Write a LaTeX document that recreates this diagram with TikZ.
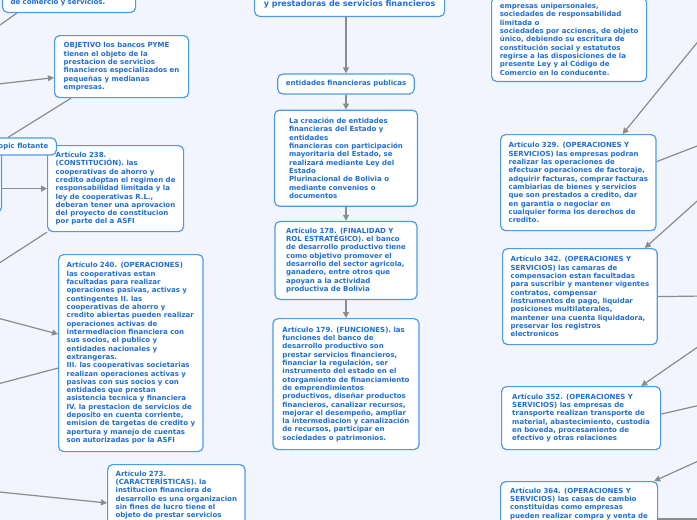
\documentclass[tikz,border=0pt]{standalone}
\usepackage{fontspec}
\setmainfont{DejaVu Sans}
\usepackage{xcolor}
\usetikzlibrary{arrows.meta, positioning}

\definecolor{fondo}{HTML}{F2F5FD}
\definecolor{borde}{HTML}{4C9BEB}
\definecolor{letra}{HTML}{1F6FD5}
\definecolor{linea}{HTML}{8C8C8C}

\begin{document}
\begin{tikzpicture}[
  x=1pt, y=-1pt,
  node distance=16pt,
  tema/.style={draw=borde, line width=1.2pt, fill=white, rounded corners=5pt,
               text=letra, font=\fontsize{7}{8.33}\selectfont\bfseries,
               align=left, inner xsep=8pt, inner ysep=6pt},
  titulo/.style={tema, font=\fontsize{8}{9.5}\selectfont\bfseries},
  con/.style={draw=linea, line width=1.2pt},
  arr/.style={con, -{Triangle[length=6pt, width=6pt]}}
]
\fill[fondo] (0,0) rectangle (697,520);
\useasboundingbox (0,0) rectangle (697,520);

% topics cut by the page edge
\node[tema, anchor=south west, text width=117pt] (comercio) at (2,13) {de comercio y servicios.};
\node[titulo, anchor=south west, minimum width=190pt, minimum height=24pt] (titulo) at (254,17)
  {y prestadoras de servicios financieros};
\node[tema, anchor=south west, minimum width=155pt] (ley) at (491,82)
  {empresas unipersonales,\\sociedades de responsabilidad\\limitada o\\sociedades por acciones, de objeto\\único, debiendo su escritura de\\constitución social y estatutos\\regirse a las disposiciones de la\\presente Ley y al Código de\\Comercio en lo conducente.};
\node[tema, anchor=south east, minimum width=90pt, minimum height=66pt] (oculto) at (2,213) {};

% left branch
\node[tema, anchor=north west, minimum width=134pt, minimum height=62pt] (objetivo) at (54,35)
  {OBJETIVO los bancos PYME\\tienen el objeto de la\\prestacion de servicios\\financieros especializados en\\pequeñas y medianas\\empresas.};
\node[tema, anchor=north west, minimum width=136pt, minimum height=86pt] (art238) at (47,145)
  {Artículo 238.\\(CONSTITUCIÓN). las\\cooperativas de ahorro y\\credito adoptan el regimen de\\responsabilidad limitada y la\\ley de cooperativas R.L.,\\deberan tener una aprovacion\\del proyecto de constitucion\\por parte del a ASFI};
\node[tema, anchor=east, minimum height=17pt, inner ysep=3pt] (flot) at (57,146.5) {Topic flotante};
\node[tema, anchor=north west, minimum width=142pt, minimum height=197pt] (art240) at (58,254)
  {Artículo 240. (OPERACIONES)\\las cooperativas estan\\facultadas para realizar\\operaciones pasivas, activas y\\contingentes II. las\\cooperativas de ahorro y\\credito abiertas pueden realizar\\operaciones activas de\\intermediacion financiera con\\sus socios, el publico y\\entidades nacionales y\\extrangeras.\\III. las cooperativas societarias\\realizan operaciones activas y\\pasivas con sus socios y con\\entidades que prestan\\asistencia tecnica y financiera\\IV. la prestacion de servicios de\\deposito en cuenta corriente,\\emision de targetas de credito y\\apertura y manejo de cuentas\\son autorizadas por la ASFI};
\node[tema, anchor=north west, minimum width=136pt] (art273) at (107,464)
  {Artículo 273.\\(CARACTERÍSTICAS). la\\institucion financiera de\\desarrollo es una organizacion\\sin fines de lucro tiene el\\objeto de prestar servicios};

% central chain
\node[tema, minimum height=20pt, inner ysep=3pt] (publicas) at (346,84) {entidades financieras publicas};
\node[tema, below=15pt of publicas, minimum width=143pt, minimum height=96pt] (creacion)
  {La creación de entidades\\financieras del Estado y\\entidades\\financieras con participación\\mayoritaria del Estado, se\\realizará mediante Ley del\\Estado\\Plurinacional de Bolivia o\\mediante convenios o\\documentos};
\node[tema, below=14pt of creacion, minimum width=142pt, minimum height=78pt] (art178)
  {Artículo 178. (FINALIDAD Y\\ROL ESTRATÉGICO). el banco\\de desarrollo productivo tiene\\como objetivo promover el\\desarrollo del sector agricola,\\ganadero, entre otros que\\apoyan a la actividad\\productiva de Bolivia};
\node[tema, below=18pt of art178, minimum width=146pt, minimum height=131pt] (art179)
  {Artículo 179. (FUNCIONES). las\\funciones del banco de\\desarrollo productivo son\\prestar servicios financieros,\\financiar la regulación, ser\\instrumento del estado en el\\otorgamiento de financiamiento\\de emprendimientos\\productivos, diseñar productos\\financieros, canalizar recursos,\\mejorar el desempeño, ampliar\\la intermediacion y canalización\\de recursos, participar en\\sociedades o patrimonios.};

% right branch
\node[tema, anchor=north west, minimum width=155pt, minimum height=96pt] (art329) at (500,134)
  {Artículo 329. (OPERACIONES Y\\SERVICIOS) las empresas podran\\realizar las operaciones de\\efectuar operaciones de factoraje,\\adquirir facturas, comprar facturas\\cambiarias de bienes y servicios\\que son prestados a credito, dar\\en garantia o negociar en\\cualquier forma los derechos de\\credito.};
\node[tema, anchor=north west, minimum width=154pt, minimum height=96pt] (art342) at (502,248)
  {Artículo 342. (OPERACIONES Y\\SERVICIOS) las camaras de\\compensacion estan facultadas\\para suscribir y mantener vigentes\\contratos, compensar\\instrumentos de pago, liquidar\\posiciones multilaterales,\\mantener una cuenta liquidadora,\\preservar los registros\\electronicos};
\node[tema, anchor=north west, minimum width=159pt, minimum height=63pt] (art352) at (501,386)
  {Artículo 352. (OPERACIONES Y\\SERVICIOS) las empresas de\\transporte realizan transporte de\\material, abastecimiento, custodia\\en boveda, procesamiento de\\efectivo y otras relaciones};
\node[tema, anchor=north west, minimum width=157pt] (art364) at (500,481)
  {Artículo 364. (OPERACIONES Y\\SERVICIOS) las casas de cambio\\constituidas como empresas\\pueden realizar compra y venta de};

% connectors
\coordinate (izq1) at (-10,32);
\draw[con] (izq1) -- ([xshift=15pt]comercio.south west);
\coordinate (izq2) at (-10,85);
\draw[arr] (izq2) -- ([yshift=-11pt]objetivo.west);
\draw[con] ([xshift=17pt]objetivo.south west) -- ([xshift=-49pt]flot.north east);
\draw[arr] (oculto.east |- art238.west) -- (art238.west);
\coordinate (izq3) at (-10,269);
\draw[con] (art238.south west) -- (izq3);
\coordinate (izq4) at (-10,316);
\draw[arr] (izq4) -- ([yshift=19pt]art240.west);
\coordinate (izq5) at (-10,386);
\draw[con] ([yshift=-15pt]art240.west) -- (izq5);
\coordinate (izq6) at (-10,491);
\draw[arr] (izq6) -- ([yshift=-39pt]art273.north west);

\draw[arr] (publicas.north |- titulo.south) -- (publicas);
\draw[arr] (publicas) -- (creacion);
\draw[arr] (creacion) -- (art178);
\draw[arr] (art178) -- (art179);

\coordinate (der1) at (705,33);
\draw[arr] (der1) -- ([xshift=-34pt]art329.north east);
\coordinate (der2) at (705,143);
\draw[con] ([yshift=21pt]art329.east) -- (der2);
\coordinate (der3) at (705,194);
\draw[arr] (der3) -- ([xshift=-13pt]art342.north east);
\coordinate (der4) at (705,296);
\draw[con] (art342.east) -- (der4);
\coordinate (der5) at (705,342);
\draw[arr] (der5) -- ([xshift=-20pt]art352.north east);
\coordinate (der6) at (705,404);
\draw[con] ([yshift=4pt]art352.east) -- (der6);
\coordinate (der7) at (705,458);
\draw[arr] (der7) -- ([xshift=-4pt]art364.north east);
\coordinate (der8) at (705,519);
\draw[con] ([yshift=-38pt]art364.north east) -- (der8);
\end{tikzpicture}
\end{document}
